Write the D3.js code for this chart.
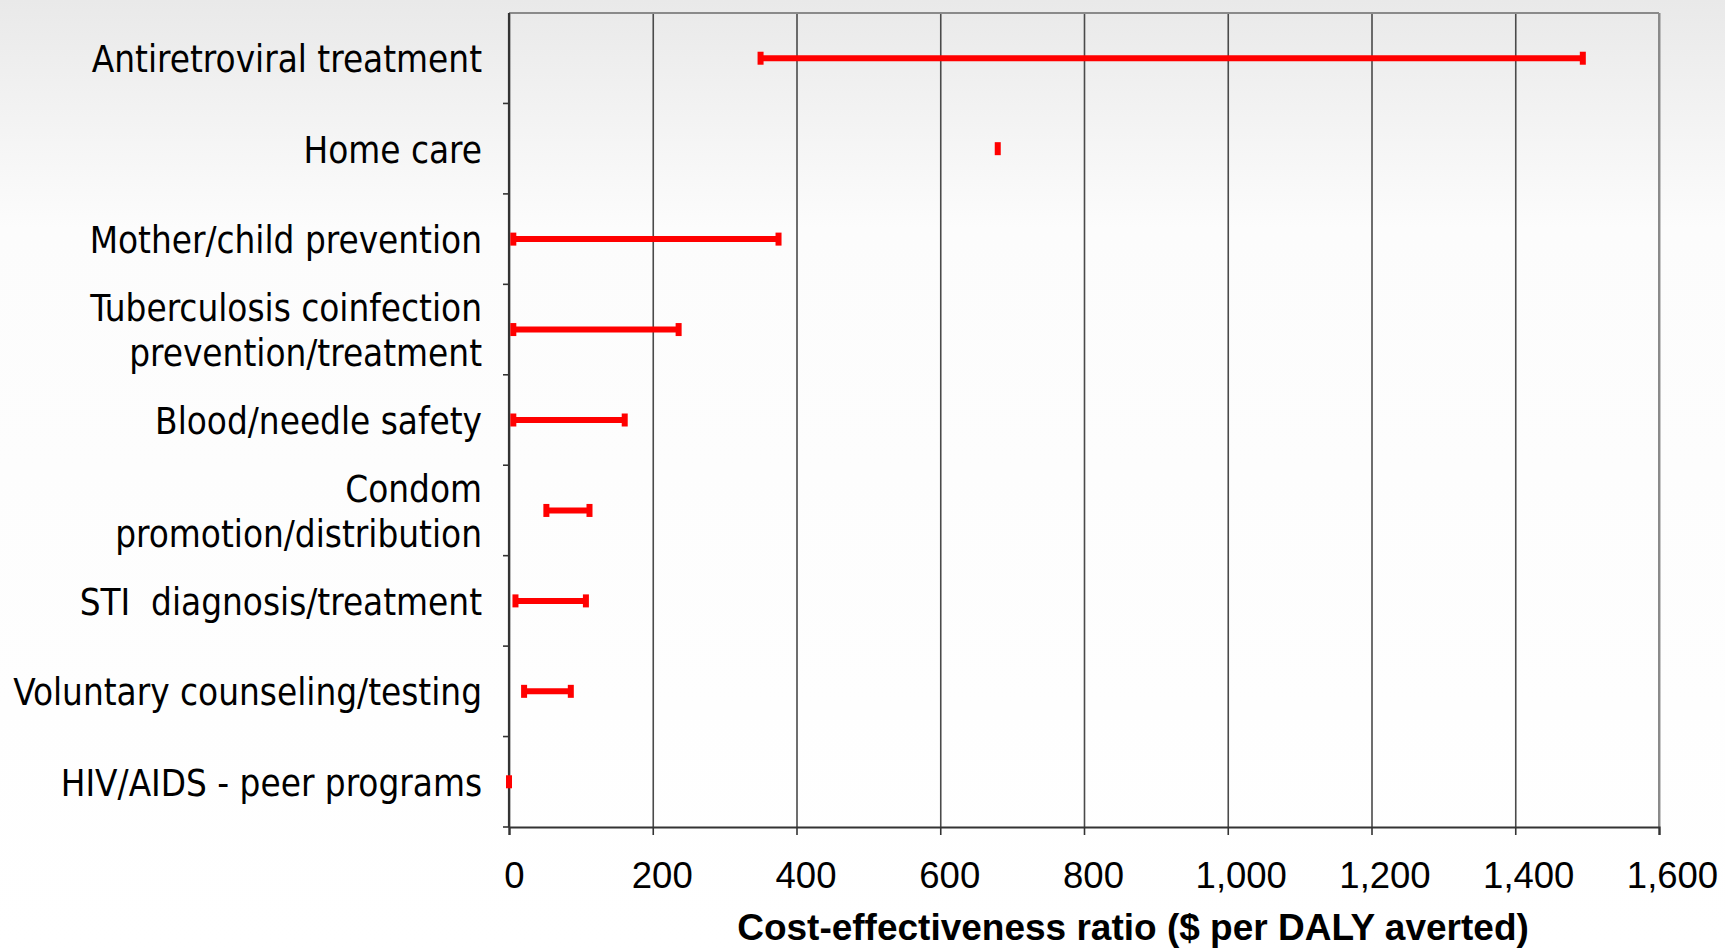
<!DOCTYPE html>
<html>
<head>
<meta charset="utf-8">
<script src="https://cdn.jsdelivr.net/npm/d3@7/dist/d3.min.js"></script>
<style>
  html, body { margin: 0; padding: 0; background: #ffffff; }
  svg { display: block; }
  .cat-label { white-space: pre; }
</style>
</head>
<body>
<svg id="chart" width="1725" height="950"></svg>
<script>
// ---- data ----
const categories = [
  "Antiretroviral treatment",
  "Home care",
  "Mother/child prevention",
  "Tuberculosis coinfection\nprevention/treatment",
  "Blood/needle safety",
  "Condom\npromotion/distribution",
  "STI  diagnosis/treatment",
  "Voluntary counseling/testing",
  "HIV/AIDS - peer programs"
];
const lowValues  = [350, 680, 6, 6, 6, 52, 9, 21, 0];
const highValues = [1494, 680, 375, 236, 161, 112, 107, 86, 0];
const xTickValues = [0, 200, 400, 600, 800, 1000, 1200, 1400, 1600];
const xAxisTitle = "Cost-effectiveness ratio ($ per DALY averted)";

// ---- layout ----
const W = 1725, H = 950;
const plot = { left: 509, right: 1659, top: 13, bottom: 827 };

const svg = d3.select("#chart");

// background gradient (slide background)
const defs = svg.append("defs");
const grad = defs.append("linearGradient").attr("id", "bg").attr("x1", 0).attr("y1", 0).attr("x2", 0).attr("y2", 1);
grad.append("stop").attr("offset", "0%").attr("stop-color", "#e9e9e9");
grad.append("stop").attr("offset", "10%").attr("stop-color", "#f1f1f1");
grad.append("stop").attr("offset", "24%").attr("stop-color", "#fcfcfc");
grad.append("stop").attr("offset", "100%").attr("stop-color", "#ffffff");
svg.append("rect").attr("x", 0).attr("y", 0).attr("width", W).attr("height", H).attr("fill", "url(#bg)");

const x = d3.scaleLinear().domain([0, 1600]).range([plot.left, plot.right]);
const y = d3.scaleBand().domain(categories).range([plot.top, plot.bottom]).padding(0);

// gridlines
const grid = svg.append("g").attr("transform", `translate(0,${plot.bottom})`)
  .call(d3.axisBottom(x).tickValues(xTickValues).tickSize(-(plot.bottom - plot.top)).tickFormat(""));
grid.select(".domain").remove();
grid.selectAll(".tick line").attr("stroke", "#4a4a4a").attr("stroke-width", 1.6);

// plot frame: top and right in gray
svg.append("line").attr("x1", plot.left).attr("x2", plot.right).attr("y1", plot.top).attr("y2", plot.top)
  .attr("stroke", "#8a8a8a").attr("stroke-width", 2);
svg.append("line").attr("x1", plot.right).attr("x2", plot.right).attr("y1", plot.top).attr("y2", plot.bottom)
  .attr("stroke", "#8a8a8a").attr("stroke-width", 2);

// x axis
const xAxis = svg.append("g").attr("transform", `translate(0,${plot.bottom})`)
  .call(d3.axisBottom(x).tickValues(xTickValues).tickSize(8).tickPadding(0).tickFormat(d3.format(",")));
xAxis.select(".domain").attr("stroke", "#333").attr("stroke-width", 2.2);
xAxis.selectAll(".tick line").attr("stroke", "#333").attr("stroke-width", 1.6);
xAxis.selectAll(".tick text")
  .attr("font-family", "'Liberation Sans', Arial, sans-serif")
  .attr("font-size", 36.5)
  .attr("fill", "#000")
  .attr("dx", d => d >= 1000 ? 13 : (d === 0 ? 5 : 9))
  .attr("y", 61)
  .attr("dy", 0);

// y axis (ticks at category boundaries)
const boundaries = categories.map(c => y(c)).concat([plot.bottom]);
svg.append("line").attr("x1", plot.left).attr("x2", plot.left).attr("y1", plot.top).attr("y2", plot.bottom)
  .attr("stroke", "#333").attr("stroke-width", 2.2);
svg.append("g").selectAll("line").data(boundaries.slice(1)).join("line")
  .attr("x1", plot.left - 6).attr("x2", plot.left).attr("y1", d => d).attr("y2", d => d)
  .attr("stroke", "#333").attr("stroke-width", 1.6);

// category labels
const labelG = svg.append("g")
  .attr("font-family", "'DejaVu Sans Condensed', 'Liberation Sans', sans-serif")
  .attr("font-stretch", "condensed")
  .attr("font-size", 36.5)
  .attr("fill", "#000")
  .attr("text-anchor", "end");
categories.forEach(c => {
  const lines = c.split("\n");
  const cy = y(c) + y.bandwidth() / 2;
  const lh = 45;
  const t = labelG.append("text").attr("class", "cat-label").attr("x", 482);
  lines.forEach((ln, i) => {
    const off = (i - (lines.length - 1) / 2) * lh;
    t.append("tspan").attr("x", 482).attr("y", cy + off + 14).text(ln);
  });
});

// range bars
const data = categories.map((c, i) => ({ c, lo: lowValues[i], hi: highValues[i] }));
const bars = svg.append("g");
bars.selectAll("line.range").data(data.filter(d => d.hi > d.lo)).join("line")
  .attr("class", "range")
  .attr("x1", d => x(d.lo)).attr("x2", d => x(d.hi))
  .attr("y1", d => y(d.c) + y.bandwidth() / 2).attr("y2", d => y(d.c) + y.bandwidth() / 2)
  .attr("stroke", "#ff0000").attr("stroke-width", 6);
const caps = data.flatMap(d => d.hi > d.lo ? [{ c: d.c, v: d.lo }, { c: d.c, v: d.hi }] : [{ c: d.c, v: d.lo }]);
bars.selectAll("rect.cap").data(caps).join("rect")
  .attr("class", "cap")
  .attr("x", d => x(d.v) - 3).attr("width", 6)
  .attr("y", d => y(d.c) + y.bandwidth() / 2 - 6.5).attr("height", 13)
  .attr("fill", "#ff0000");

// x axis title
svg.append("text")
  .attr("x", 1133).attr("y", 940)
  .attr("text-anchor", "middle")
  .attr("font-family", "'Liberation Sans', Arial, sans-serif")
  .attr("font-weight", "bold")
  .attr("font-size", 37)
  .attr("fill", "#000")
  .text(xAxisTitle);
</script>
</body>
</html>
